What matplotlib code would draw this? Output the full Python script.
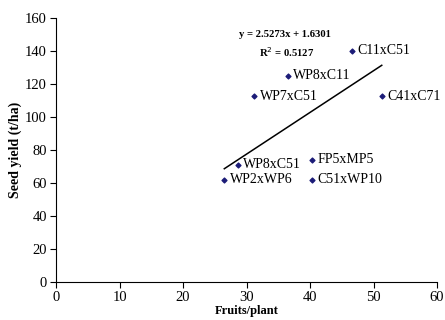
import matplotlib
matplotlib.use("Agg")
import matplotlib.pyplot as plt
import numpy as np

labels = ["C11xC51", "WP8xC11", "WP7xC51", "C41xC71", "WP8xC51", "FP5xMP5", "WP2xWP6", "C51xWP10"]
fruits = [46.6, 36.5, 31.2, 51.3, 28.6, 40.3, 26.5, 40.3]
yields = [140, 125, 112.5, 112.5, 71, 74, 62, 62]
slope, intercept = 2.5273, 1.6301
x_ticks = [0, 10, 20, 30, 40, 50, 60]
y_ticks = [0, 20, 40, 60, 80, 100, 120, 140, 160]

plt.rcParams['font.family'] = ['Liberation Serif', 'DejaVu Serif']

fig = plt.figure(figsize=(4.45, 3.2), dpi=100)
ax = fig.add_axes([0.126, 0.119, 0.856, 0.825])

ax.scatter(fruits, yields, marker='D', s=6, color='#1c1c78', zorder=3)
for x, y, lab in zip(fruits, yields, labels):
    ax.annotate(lab, (x, y), xytext=(4, 0), textcoords='offset points',
                va='center', ha='left', fontsize=10)

xs = np.array([min(fruits), max(fruits)])
ax.plot(xs, slope * xs + intercept, color='black', lw=1.1)

ax.text(0.60, 0.936, "y = 2.5273x + 1.6301", transform=ax.transAxes,
        ha='center', va='center', fontsize=7.7, fontweight='bold')
ax.text(0.606, 0.871, "R$^2$ = 0.5127", transform=ax.transAxes,
        ha='center', va='center', fontsize=7.7, fontweight='bold')

ax.set_xlim(0, 60)
ax.set_ylim(0, 160)
ax.set_xticks(x_ticks)
ax.set_yticks(y_ticks)
ax.spines['top'].set_visible(False)
ax.spines['right'].set_visible(False)
ax.tick_params(direction='out', length=4, labelsize=10.5, width=0.8, pad=2.5)
ax.set_xlabel("Fruits/plant", fontsize=9, fontweight='bold', labelpad=1)
ax.set_ylabel("Seed yield (t/ha)", fontsize=10, fontweight='bold', labelpad=2)

fig.savefig("out.png", dpi=100)
